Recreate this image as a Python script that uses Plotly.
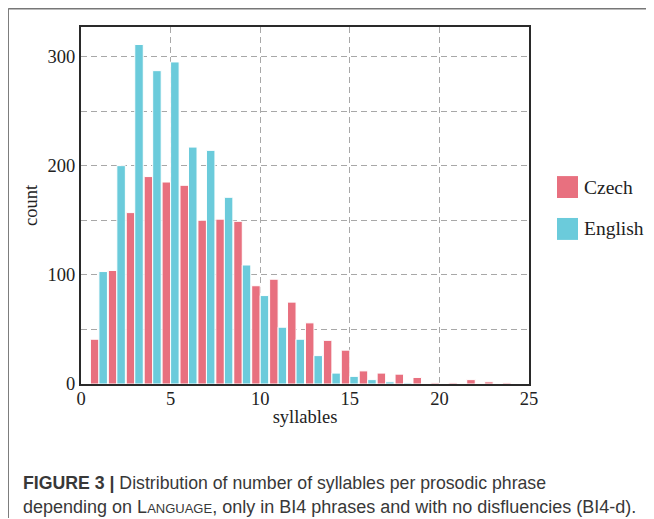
import plotly.graph_objects as go

syllables = list(range(1, 25))
czech = [41, 104, 157, 190, 185, 182, 150, 151, 149, 90, 96, 75, 56, 40, 31, 12, 10, 9, 6, 1, 1, 4, 2, 1]
english = [103, 200, 311, 287, 295, 217, 214, 171, 109, 81, 52, 41, 26, 10, 7, 4, 2, 1, 0, 0, 0, 0, 0, 0]
series_names = ["Czech", "English"]
colors = ["#E8707F", "#6BCBDB"]

# page has an 8px body margin; work in reference screen pixels and convert
OFF = 8
W, H = 654 - OFF, 519 - OFF
L, R, T, B = 81 - OFF, 529 - OFF, 26.5 - OFF, 384.5 - OFF
pw, ph = R - L, B - T

def px(x):
    return (x - OFF - L) / pw

def py(y):
    return (B - (y - OFF)) / ph

fig = go.Figure()
for name, vals, col in zip(series_names, [czech, english], colors):
    fig.add_trace(go.Bar(x=syllables, y=vals, name=name, showlegend=False,
                         marker=dict(color=col, line=dict(color="white", width=1))))

serif = "Liberation Serif, Times New Roman, serif"
axis_common = dict(showline=True, linecolor="#2a2a2a", linewidth=2, mirror=True,
                   showgrid=True, gridcolor="#A8A8A8", gridwidth=1, griddash="6px,4px",
                   zeroline=False, ticks="", tickfont=dict(family=serif, size=18.5, color="#222"),
                   title_font=dict(family=serif, size=18.5, color="#222"), automargin=False)

fig.update_layout(
    width=W, height=H,
    margin=dict(l=L, r=W - R, t=T, b=H - B, pad=0, autoexpand=False),
    paper_bgcolor="white", plot_bgcolor="white",
    barmode="group", bargap=0.05, bargroupgap=0,
    xaxis=dict(range=[0, 25], tickvals=[0, 5, 10, 15, 20, 25], title_text="syllables",
               title_standoff=2, ticklabelstandoff=-3, **axis_common),
    yaxis=dict(range=[0, 327], tickvals=[0, 100, 200, 300],
               minor=dict(tickvals=[50, 150, 250], showgrid=True, gridcolor="#A8A8A8",
                          griddash="6px,4px", gridwidth=1),
               title_text="count", title_standoff=5, **axis_common),
    showlegend=False,
)

# legend drawn as boxes + labels
leg_y = [187, 229]
for name, col, yc in zip(series_names, colors, leg_y):
    fig.add_shape(type="rect", xref="paper", yref="paper",
                  x0=px(557), x1=px(578), y0=py(yc - 11), y1=py(yc + 11),
                  fillcolor=col, line=dict(color=col, width=0))
    fig.add_annotation(text=name, xref="paper", yref="paper", x=px(582), y=py(yc),
                       xanchor="left", yanchor="middle", showarrow=False,
                       font=dict(family=serif, size=19.5, color="#222"))

# figure frame (top and left border)
fig.add_shape(type="line", xref="paper", yref="paper", x0=px(8.2), x1=px(654), y0=py(8.2), y1=py(8.2),
              line=dict(color="#777777", width=1.5))
fig.add_shape(type="line", xref="paper", yref="paper", x0=px(8.2), x1=px(8.2), y0=py(8.2), y1=py(519),
              line=dict(color="#777777", width=1.5))

sans = "Liberation Sans Narrow, Liberation Sans, Arial, sans-serif"
cap1 = "<b>FIGURE 3 | </b>Distribution of number of syllables per prosodic phrase"
cap2 = "depending on L<span style='font-size:13px'>ANGUAGE</span>, only in BI4 phrases and with no disfluencies (BI4-d)."
fig.add_annotation(text=cap1, xref="paper", yref="paper", x=px(21), y=py(484), xanchor="left",
                   yanchor="middle", showarrow=False, font=dict(family=sans, size=17.7, color="#383838"))
fig.add_annotation(text=cap2, xref="paper", yref="paper", x=px(21), y=py(508), xanchor="left",
                   yanchor="middle", showarrow=False, font=dict(family=sans, size=18, color="#383838"))

fig.write_html("out.html")
